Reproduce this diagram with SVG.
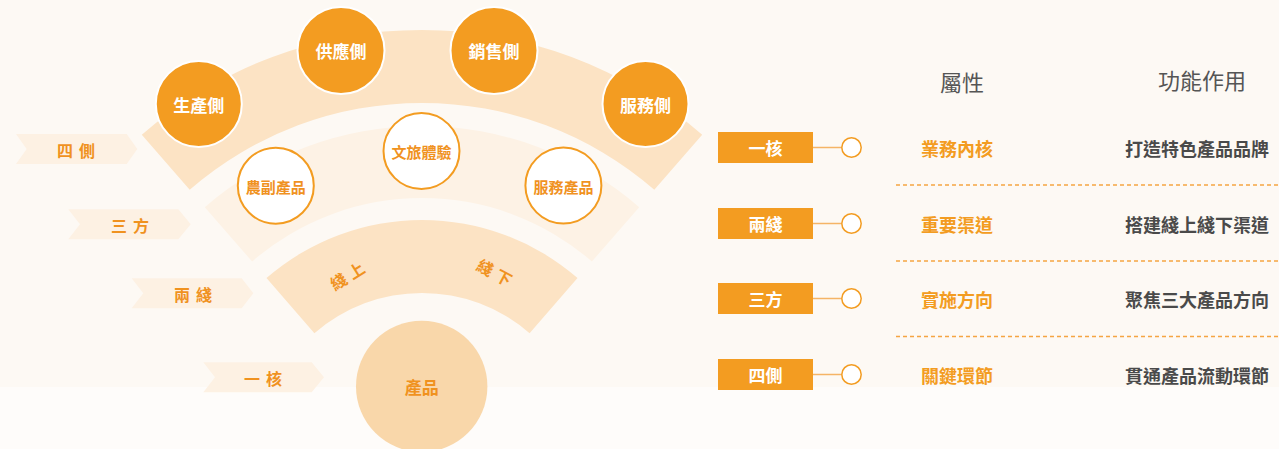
<svg xmlns="http://www.w3.org/2000/svg" width="1279" height="449" viewBox="0 0 1279 449">
<style>
text{font-family:"Noto Sans CJK TC","Noto Sans CJK SC",sans-serif;text-anchor:middle;dominant-baseline:central}
.or{fill:#f39c21;stroke:#ffffff;stroke-width:2}
.wh{fill:#ffffff;stroke:#f39c21;stroke-width:2}
.tw{fill:#ffffff;font-size:17px;font-weight:700}
.to{fill:#f0921f;font-size:15px;font-weight:700}
.chev{fill:#fdf1e3}
.ct{fill:#f0921f;font-size:16px;font-weight:700;letter-spacing:6px}
.hd{fill:#555555;font-size:22px}
.box{fill:#f39c21}
.bt{fill:#ffffff;font-size:17px;font-weight:700}
.at{fill:#f39c21;font-size:18px;font-weight:700}
.ft{fill:#4a4a4a;font-size:18px;font-weight:700}
.ln{stroke:#f5b466;stroke-width:1.5;fill:none}
.dot{fill:#ffffff;stroke:#f39c21;stroke-width:1.5}
.dash{stroke:#f5a542;stroke-width:1.3;stroke-dasharray:4 3;fill:none}
</style>
<rect x="0" y="0" width="1279" height="449" fill="#fdf9f4"/>
<rect x="0" y="387" width="1279" height="62" fill="#fefcfa"/>

<g id="band-four-sides">
<path d="M141.8,134.7 A427,427 0 0 1 702.2,134.7 L654.3,189.8 A354,354 0 0 0 189.7,189.8 Z" fill="#fce3c4"/>
</g>
<g id="band-three-parties">
<path d="M204.8,207.2 A331,331 0 0 1 639.2,207.2 L591.9,261.5 A259,259 0 0 0 252.1,261.5 Z" fill="#fdf2e5"/>
</g>
<g id="band-two-lines">
<path d="M266.5,278.1 A237,237 0 0 1 577.5,278.1 L529.6,333.2 A164,164 0 0 0 314.4,333.2 Z" fill="#fce3c4"/>
<text class="to" style="font-size:16px;letter-spacing:5px" transform="translate(349,274) rotate(-32)">綫上</text>
<text class="to" style="font-size:16px;letter-spacing:5px" transform="translate(497,273) rotate(28)">綫下</text>
</g>
<g id="core-product">
<circle cx="421.7" cy="386.4" r="65.7" fill="#f9d7aa"/>
<text class="to" x="421.7" y="386" style="font-size:17px">產品</text>
</g>

<g id="node-production"><circle class="or" cx="198.8" cy="104" r="43"/><text class="tw" x="198.8" y="104">生產側</text></g>
<g id="node-supply"><circle class="or" cx="341" cy="50.5" r="43.5"/><text class="tw" x="341" y="50.5">供應側</text></g>
<g id="node-sales"><circle class="or" cx="494" cy="50.5" r="43.5"/><text class="tw" x="494" y="50.5">銷售側</text></g>
<g id="node-service"><circle class="or" cx="645.5" cy="104" r="43"/><text class="tw" x="645.5" y="104">服務側</text></g>

<g id="node-agri"><circle class="wh" cx="275.8" cy="185.7" r="38"/><text class="to" x="275.8" y="186">農副產品</text></g>
<g id="node-culture"><circle class="wh" cx="421.5" cy="151" r="38"/><text class="to" x="421.5" y="151">文旅體驗</text></g>
<g id="node-service-product"><circle class="wh" cx="563.4" cy="185.5" r="38"/><text class="to" x="563.4" y="186">服務產品</text></g>

<g id="label-four">
<path class="chev" d="M16,134 L126.7,134 L137.3,149 L126.7,164 L16,164 L26.7,149 Z"/>
<text class="ct" x="79" y="150">四側</text>
</g>
<g id="label-three">
<path class="chev" d="M68.3,209.3 L178.3,209.3 L190.7,224.3 L178.3,239.3 L68.3,239.3 L80,224.3 Z"/>
<text class="ct" x="133" y="225">三方</text>
</g>
<g id="label-two">
<path class="chev" d="M131.7,278.3 L241.7,278.3 L253.3,293.3 L241.7,308.3 L131.7,308.3 L143.3,293.3 Z"/>
<text class="ct" x="196" y="294">兩綫</text>
</g>
<g id="label-one">
<path class="chev" d="M203.3,362.3 L311.7,362.3 L324,377.3 L311.7,392.3 L203.3,392.3 L215,377.3 Z"/>
<text class="ct" x="266" y="377.5">一核</text>
</g>

<g id="headers">
<text class="hd" x="962" y="81">屬性</text>
<text class="hd" x="1202" y="79">功能作用</text>
</g>

<g id="connectors">
<line class="ln" x1="813" y1="147.5" x2="841.5" y2="147.5"/>
<line class="ln" x1="813" y1="223.5" x2="841.5" y2="223.5"/>
<line class="ln" x1="813" y1="298.5" x2="841.5" y2="298.5"/>
<line class="ln" x1="813" y1="374.5" x2="841.5" y2="374.5"/>
<line class="dash" x1="896" y1="185" x2="1279" y2="185"/>
<line class="dash" x1="896" y1="261" x2="1279" y2="261"/>
<line class="dash" x1="896" y1="336.5" x2="1279" y2="336.5"/>
</g>

<g id="row-one">
<rect class="box" x="718" y="132" width="95" height="31"/>
<text class="bt" x="765.5" y="147.5">一核</text>
<circle class="dot" cx="851.5" cy="147.5" r="9.7"/>
<text class="at" x="957" y="147.5">業務內核</text>
<text class="ft" x="1197" y="147.5">打造特色產品品牌</text>
</g>
<g id="row-two">
<rect class="box" x="718" y="208" width="95" height="31"/>
<text class="bt" x="765.5" y="223.5">兩綫</text>
<circle class="dot" cx="851.5" cy="223.5" r="9.7"/>
<text class="at" x="957" y="223.5">重要渠道</text>
<text class="ft" x="1197" y="223.5">搭建綫上綫下渠道</text>
</g>
<g id="row-three">
<rect class="box" x="718" y="283" width="95" height="31"/>
<text class="bt" x="765.5" y="298.5">三方</text>
<circle class="dot" cx="851.5" cy="298.5" r="9.7"/>
<text class="at" x="957" y="298.5">實施方向</text>
<text class="ft" x="1197" y="298.5">聚焦三大產品方向</text>
</g>
<g id="row-four">
<rect class="box" x="718" y="359" width="95" height="31"/>
<text class="bt" x="765.5" y="374.5">四側</text>
<circle class="dot" cx="851.5" cy="374.5" r="9.7"/>
<text class="at" x="957" y="374.5">關鍵環節</text>
<text class="ft" x="1197" y="374.5">貫通產品流動環節</text>
</g>
</svg>
